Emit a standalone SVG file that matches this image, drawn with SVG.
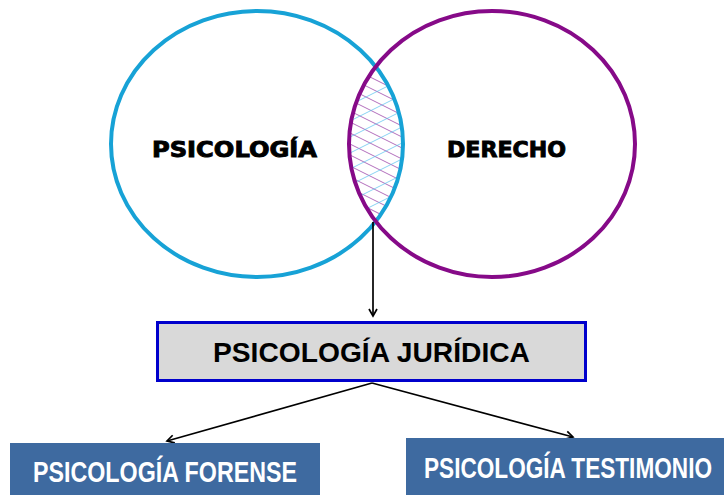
<svg xmlns="http://www.w3.org/2000/svg" width="724" height="495" viewBox="0 0 724 495">
  <style>
    .venn { fill: none; stroke-width: 4; }
    .vlabel { font-family: "DejaVu Sans", "Lato", sans-serif; font-weight: bold; font-size: 21px; fill: #000; stroke: #000; stroke-width: 0.9; }
    .conn { stroke: #000; stroke-width: 1.7; fill: none; marker-end: url(#arr); }
    .hp { stroke: #9a3fa6; stroke-width: 1.1; opacity: 0.75; }
    .hb { stroke: #56c2ee; stroke-width: 1.1; opacity: 0.7; }
    .sub { fill: #3e6aa0; }
    .subt { font-family: "Liberation Sans Narrow", "Liberation Sans", Arial, sans-serif; font-weight: bold; font-size: 29px; fill: #fff; }
  </style>
  <defs>
    <marker id="arr" markerWidth="10" markerHeight="10" refX="8" refY="5" orient="auto" markerUnits="userSpaceOnUse">
      <path d="M1,1 L8,5 L1,9" fill="none" stroke="#000" stroke-width="1.7"/>
    </marker>
    <clipPath id="clipL"><ellipse cx="257" cy="144" rx="146" ry="133"/></clipPath>
    <clipPath id="clipR"><ellipse cx="492" cy="144" rx="143" ry="133"/></clipPath>
  </defs>

  <rect width="724" height="495" fill="#fff"/>

  <g id="hatch" clip-path="url(#clipL)">
    <g clip-path="url(#clipR)">
      <g class="hp">
        <line x1="300" y1="20" x2="440" y2="90"/>
        <line x1="300" y1="31" x2="440" y2="101"/>
        <line x1="300" y1="42" x2="440" y2="112"/>
        <line x1="300" y1="53" x2="440" y2="123"/>
        <line x1="300" y1="64" x2="440" y2="134"/>
        <line x1="300" y1="75" x2="440" y2="145"/>
        <line x1="300" y1="86" x2="440" y2="156"/>
        <line x1="300" y1="97" x2="440" y2="167"/>
        <line x1="300" y1="108" x2="440" y2="178"/>
        <line x1="300" y1="119" x2="440" y2="189"/>
        <line x1="300" y1="130" x2="440" y2="200"/>
        <line x1="300" y1="141" x2="440" y2="211"/>
        <line x1="300" y1="152" x2="440" y2="222"/>
        <line x1="300" y1="163" x2="440" y2="233"/>
        <line x1="300" y1="174" x2="440" y2="244"/>
        <line x1="300" y1="185" x2="440" y2="255"/>
      </g>
      <g class="hb">
        <line x1="300" y1="130" x2="440" y2="60"/>
        <line x1="300" y1="146" x2="440" y2="76"/>
        <line x1="300" y1="162" x2="440" y2="92"/>
        <line x1="300" y1="178" x2="440" y2="108"/>
        <line x1="300" y1="194" x2="440" y2="124"/>
        <line x1="300" y1="210" x2="440" y2="140"/>
        <line x1="300" y1="226" x2="440" y2="156"/>
        <line x1="300" y1="242" x2="440" y2="172"/>
        <line x1="300" y1="258" x2="440" y2="188"/>
        <line x1="300" y1="274" x2="440" y2="204"/>
      </g>
    </g>
  </g>

  <g id="psicologia">
    <ellipse class="venn" cx="257" cy="144" rx="146" ry="133" stroke="#17a2d6"/>
    <text class="vlabel" x="152" y="157" textLength="165" lengthAdjust="spacingAndGlyphs">PSICOLOGÍA</text>
  </g>

  <g id="derecho">
    <ellipse class="venn" cx="492" cy="144" rx="143" ry="133" stroke="#860a88"/>
    <text class="vlabel" x="447" y="157" textLength="119" lengthAdjust="spacingAndGlyphs">DERECHO</text>
  </g>

  <g id="connectors">
    <line class="conn" x1="373" y1="222" x2="373" y2="316"/>
    <line class="conn" x1="372" y1="383" x2="167" y2="441"/>
    <line class="conn" x1="372" y1="383" x2="573" y2="437"/>
  </g>

  <g id="juridica">
    <rect x="157.5" y="322.5" width="428" height="58" fill="#d9d9d9" stroke="#0000cc" stroke-width="3"/>
    <text x="213" y="362" font-family="Liberation Sans, Arial, sans-serif" font-weight="bold" font-size="28" textLength="317" lengthAdjust="spacingAndGlyphs">PSICOLOGÍA JURÍDICA</text>
  </g>

  <g id="forense">
    <rect class="sub" x="10" y="443" width="310" height="52"/>
    <text class="subt" x="33" y="482" textLength="264" lengthAdjust="spacingAndGlyphs">PSICOLOGÍA FORENSE</text>
  </g>

  <g id="testimonio">
    <rect class="sub" x="406" y="438" width="318" height="57"/>
    <text class="subt" x="424" y="478" textLength="288" lengthAdjust="spacingAndGlyphs">PSICOLOGÍA TESTIMONIO</text>
  </g>
</svg>
